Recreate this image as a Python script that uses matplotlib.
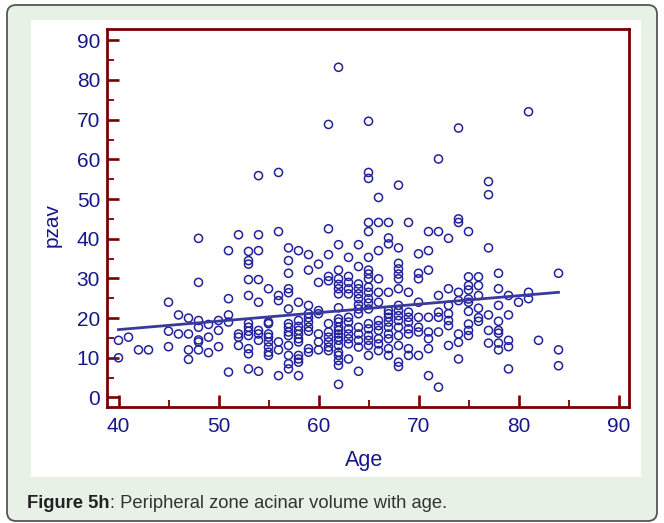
import matplotlib
matplotlib.use("Agg")
import matplotlib.pyplot as plt
from matplotlib.patches import FancyBboxPatch, Rectangle
from matplotlib.transforms import IdentityTransform
from matplotlib.ticker import MultipleLocator, FixedLocator

plt.rcParams['font.family'] = ['Liberation Sans', 'DejaVu Sans']

# ---- data ----
age = [
    40, 40,
    41,
    42,
    43,
    45, 45, 45,
    46, 46,
    47, 47, 47, 47,
    48, 48, 48, 48, 48, 48, 48,
    49, 49, 49,
    50, 50, 50,
    51, 51, 51, 51, 51,
    52, 52, 52, 52,
    53, 53, 53, 53, 53, 53, 53, 53, 53, 53, 53, 53,
    54, 54, 54, 54, 54, 54, 54, 54, 54,
    55, 55, 55, 55, 55, 55, 55, 55, 55,
    56, 56, 56, 56, 56, 56, 56,
    57, 57, 57, 57, 57, 57, 57, 57, 57, 57, 57, 57, 57, 57,
    58, 58, 58, 58, 58, 58, 58, 58, 58, 58, 58, 58,
    59, 59, 59, 59, 59, 59, 59, 59, 59, 59,
    60, 60, 60, 60, 60, 60, 60,
    61, 61, 61, 61, 61, 61, 61, 61, 61, 61, 61,
    62, 62, 62, 62, 62, 62, 62, 62, 62, 62, 62, 62, 62, 62, 62, 62, 62, 62, 62, 62, 62,
    63, 63, 63, 63, 63, 63, 63, 63, 63, 63, 63, 63,
    64, 64, 64, 64, 64, 64, 64, 64, 64, 64, 64, 64, 64, 64,
    65, 65, 65, 65, 65, 65, 65, 65, 65, 65, 65, 65, 65, 65, 65, 65, 65, 65, 65, 65,
    66, 66, 66, 66, 66, 66, 66, 66, 66, 66, 66, 66,
    67, 67, 67, 67, 67, 67, 67, 67, 67, 67, 67, 67, 67,
    68, 68, 68, 68, 68, 68, 68, 68, 68, 68, 68, 68, 68, 68, 68, 68,
    69, 69, 69, 69, 69, 69, 69, 69, 69,
    70, 70, 70, 70, 70, 70, 70, 70,
    71, 71, 71, 71, 71, 71, 71, 71,
    72, 72, 72, 72, 72, 72, 72,
    73, 73, 73, 73, 73, 73, 73,
    74, 74, 74, 74, 74, 74, 74, 74,
    75, 75, 75, 75, 75, 75, 75, 75, 75, 75,
    76, 76, 76, 76, 76, 76,
    77, 77, 77, 77, 77, 77,
    78, 78, 78, 78, 78, 78, 78, 78,
    79, 79, 79, 79, 79,
    80,
    81, 81, 81,
    82,
    84, 84, 84,
]
pzav = [
    14.4, 10.0,
    15.2,
    12.0,
    12.0,
    24.0, 16.7, 12.8,
    20.8, 16.0,
    20.0, 16.0, 12.0, 9.6,
    40.1, 29.0, 19.4, 17.7, 14.5, 14.0, 12.0,
    18.4, 15.2, 11.3,
    19.4, 16.9, 12.8,
    37.0, 24.9, 20.8, 19.0, 6.4,
    41.0, 16.0, 15.2, 13.1,
    36.8, 34.5, 33.6, 29.7, 25.7, 18.7, 17.7, 16.7, 15.6, 12.3, 11.0, 7.2,
    55.9, 41.0, 37.0, 29.7, 24.0, 16.9, 16.0, 14.4, 6.6,
    27.4, 19.0, 18.6, 16.0, 15.2, 14.0, 12.7, 11.4, 10.6,
    56.7, 41.8, 25.7, 24.4, 14.0, 12.0, 5.5,
    37.7, 34.5, 31.3, 27.4, 26.4, 22.3, 18.6, 17.7, 16.5, 15.6, 13.1, 10.6, 8.5, 7.2,
    37.0, 24.0, 19.4, 17.9, 16.9, 15.9, 14.8, 14.0, 10.6, 9.7, 8.9, 5.5,
    36.0, 32.1, 23.2, 21.1, 20.1, 19.0, 17.7, 16.7, 12.3, 11.4,
    33.6, 29.0, 21.9, 21.1, 16.0, 14.0, 12.0,
    68.8, 42.5, 36.0, 30.5, 29.4, 18.6, 16.5, 15.2, 14.0, 12.7, 11.8,
    83.2, 38.5, 32.1, 29.9, 28.5, 27.4, 26.1, 22.6, 19.8, 19.0, 17.7, 16.9, 16.0, 15.2, 14.4, 13.1, 11.4, 10.6, 9.3, 8.1, 3.3,
    35.3, 30.5, 29.0, 27.4, 26.1, 20.2, 19.0, 17.3, 16.0, 14.8, 13.5, 9.7,
    38.5, 33.0, 28.6, 27.4, 26.1, 24.9, 23.4, 22.3, 21.1, 17.7, 16.0, 14.4, 12.7, 6.6,
    69.6, 56.7, 55.2, 44.1, 41.8, 35.3, 32.1, 31.1, 29.9, 27.8, 26.5, 24.9, 23.8, 22.3, 18.6, 17.3, 15.6, 14.4, 13.1, 10.6,
    50.4, 44.1, 37.0, 29.9, 26.5, 24.0, 19.4, 18.1, 16.9, 14.8, 13.5, 11.8,
    44.1, 40.2, 38.7, 26.5, 21.9, 21.1, 20.2, 19.0, 17.7, 16.0, 14.8, 12.3, 10.6,
    53.5, 37.7, 33.8, 32.4, 31.1, 29.9, 27.4, 23.2, 21.9, 20.6, 19.4, 17.7, 15.6, 13.1, 8.9, 7.8,
    44.1, 26.5, 21.5, 20.2, 19.0, 17.3, 16.0, 12.3, 10.6,
    36.2, 31.3, 29.9, 24.0, 20.2, 17.7, 16.5, 10.6,
    41.8, 37.0, 32.1, 20.2, 16.5, 14.8, 12.3, 5.5,
    60.1, 41.8, 25.7, 21.5, 20.2, 16.5, 2.6,
    40.1, 27.4, 23.2, 21.1, 19.4, 18.1, 13.1,
    67.9, 45.0, 44.1, 26.5, 24.4, 16.0, 13.9, 9.7,
    41.8, 30.4, 28.2, 27.1, 24.8, 24.0, 21.7, 18.5, 16.9, 15.6,
    30.4, 28.2, 25.7, 22.5, 20.1, 19.2,
    54.4, 51.1, 37.7, 20.8, 16.9, 13.7,
    31.3, 27.4, 23.2, 19.2, 16.9, 16.2, 13.7, 12.0,
    25.7, 20.8, 14.4, 12.8, 7.2,
    24.0,
    72.0, 26.5, 24.9,
    14.4,
    31.3, 12.0, 8.0,
]
assert len(age) == len(pzav)

fit_age = [40, 84]
fit_pzav = [17.1, 26.5]

x_ticks = [40, 50, 60, 70, 80, 90]
y_ticks = [0, 10, 20, 30, 40, 50, 60, 70, 80, 90]

caption_bold = "Figure 5h"
caption_rest = ": Peripheral zone acinar volume with age."

# ---- styling ----
W, H = 664, 523
frame_col = '#7a0000'
label_col = '#17178c'
marker_col = '#22229a'
line_col = '#3a3a9c'

fig = plt.figure(figsize=(W / 100, H / 100), dpi=100)
fig.patch.set_facecolor('white')

bg = FancyBboxPatch((7, H - 521), 650, 516,
                    boxstyle="round,pad=0,rounding_size=9",
                    transform=IdentityTransform(),
                    facecolor='#e7f1e6', edgecolor='#555555',
                    linewidth=1.3, zorder=-3)
fig.add_artist(bg)
panel = Rectangle((31, H - 477), 610, 457, transform=IdentityTransform(),
                  facecolor='white', edgecolor='none', zorder=-2)
fig.add_artist(panel)

ax = fig.add_axes([107 / W, 1 - 407 / H, 522 / W, 378 / H])
ax.set_facecolor('white')

ax.scatter(age, pzav, s=34, facecolors='none', edgecolors=marker_col,
           linewidths=1.1, zorder=3, clip_on=False)
ax.plot(fit_age, fit_pzav, color=line_col, linewidth=2.0, zorder=4)

ax.set_xlim(38.85, 91.05)
ax.set_ylim(-2.4, 92.85)

ax.xaxis.set_major_locator(FixedLocator(x_ticks))
ax.yaxis.set_major_locator(FixedLocator(y_ticks))
ax.xaxis.set_minor_locator(MultipleLocator(5))
ax.yaxis.set_minor_locator(MultipleLocator(5))

for sp in ax.spines.values():
    sp.set_color(frame_col)
    sp.set_linewidth(2.0)

ax.tick_params(which='major', direction='in', length=8.5, width=1.9,
               color=frame_col, labelcolor=label_col, labelsize=15,
               top=False, right=False)
ax.tick_params(which='minor', direction='in', length=5, width=1.3,
               color=frame_col, top=False, right=False)
ax.tick_params(axis='y', which='major', pad=5)
ax.tick_params(axis='x', which='major', pad=7)

ax.set_xlabel('Age', fontsize=15.5, color=label_col)
ax.set_ylabel('pzav', fontsize=15, color=label_col)
ax.xaxis.set_label_coords((364 - 107) / 522, -(450 - 407) / 378)
ax.yaxis.set_label_coords(-(107 - 62) / 522, (407 - 225) / 378)

t1 = fig.text(27 / W, 1 - 508 / H, caption_bold, fontsize=13.2,
              fontweight='bold', color='#222222', ha='left', va='baseline')
ax.annotate(caption_rest, xy=(1, 0), xycoords=t1, fontsize=13.2,
            color='#333333', ha='left', va='bottom', annotation_clip=False)

fig.savefig('out.png', dpi=100)
